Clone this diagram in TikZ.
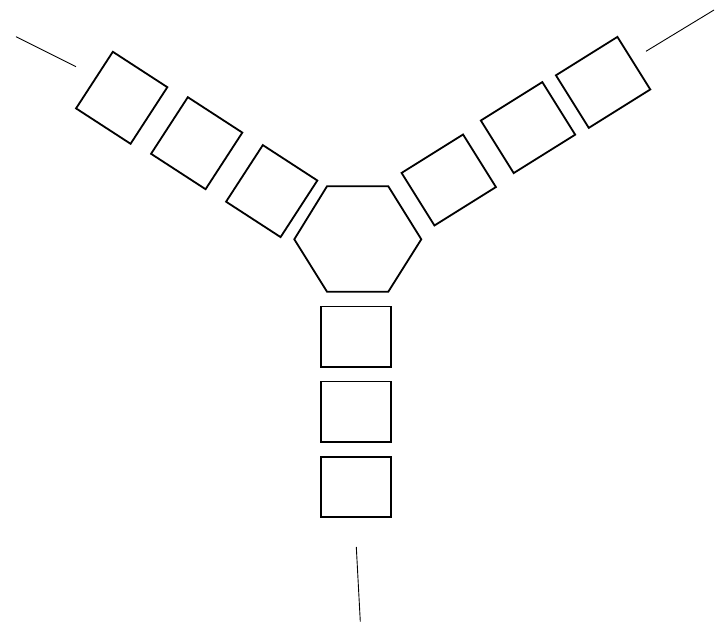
\documentclass[tikz,border=0pt]{standalone}
\begin{document}
\begin{tikzpicture}[x=1pt,y=1pt,
  box/.style={draw=black,line width=1.8pt,rectangle,inner sep=0pt,outer sep=0pt},
  ulbox/.style={box,minimum width=65pt,minimum height=67.5pt,rotate=-33},
  urbox/.style={box,minimum width=72.5pt,minimum height=62pt,rotate=32},
  bbox/.style={box,minimum width=69.7pt,minimum height=60.6pt},
  thin/.style={draw=black,line width=0.9pt}]
\useasboundingbox (0,0) rectangle (715,624);
% hexagon
\coordinate (h1) at (327,437.7);
\coordinate (h2) at (388.3,437.7);
\coordinate (h3) at (421.3,384.7);
\coordinate (h4) at (388.3,332.3);
\coordinate (h5) at (327,332.3);
\coordinate (h6) at (294.3,384.7);
\draw[line width=1.8pt,line join=miter] (h1)--(h2)--(h3)--(h4)--(h5)--(h6)--cycle;
% upper-left arm
\node[ulbox] (ul1) at (121.7,526.2) {};
\node[ulbox] (ul2) at (196.7,480.8) {};
\node[ulbox] (ul3) at (271.7,432.9) {};
% upper-right arm
\node[urbox] (ur1) at (603.1,541.6) {};
\node[urbox] (ur2) at (528,496.4) {};
\node[urbox] (ur3) at (448.75,444) {};
% bottom arm
\node[bbox] (b1) at (356.2,287.1) {};
\node[bbox] (b2) at (356.2,212.1) {};
\node[bbox] (b3) at (356.2,137) {};
% free lines
\coordinate (ula) at (16,587.3);
\coordinate (ulb) at (76,557.3);
\coordinate (ura) at (646,572.7);
\coordinate (urb) at (714,614);
\coordinate (ba) at (356.3,77);
\coordinate (bb) at (360.3,2.3);
\draw[thin] (ula) -- (ulb);
\draw[thin] (ura) -- (urb);
\draw[thin] (ba) -- (bb);
\end{tikzpicture}
\end{document}
